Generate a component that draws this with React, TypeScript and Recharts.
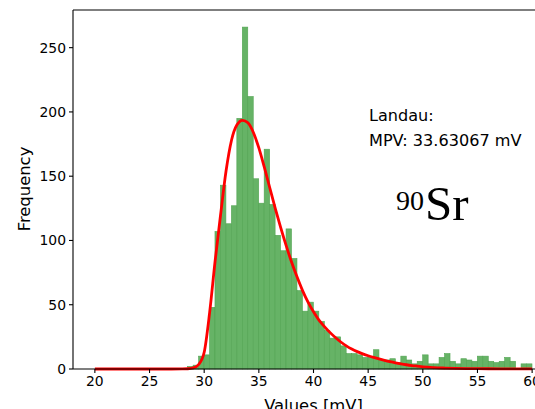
import { Bar, ComposedChart, Line, ReferenceLine, XAxis, YAxis } from 'recharts'

// histogram: 80 bins of 0.5 mV from 20 to 60
const binStart = 20
const binWidth = 0.5
const counts = [
  0, 0, 0, 0, 0, 0, 0, 0, 0, 0, 0, 0, 0, 0, 0, 0, 0,
  2, 3, 10, 11, 48, 107, 143, 113, 127, 195, 266, 212, 148, 129, 171, 128, 104,
  92, 109, 86, 61, 45, 52, 45, 37, 30, 24, 25, 18, 12, 12, 11, 9, 9, 15, 7, 7,
  8, 5, 10, 7, 4, 6, 11, 4, 4, 9, 12, 6, 4, 8, 7, 6, 10, 10, 6, 5, 6, 9, 6, 0,
  4, 4,
]

// Landau fit
const fitX = [
  20, 22, 24, 26, 27, 28, 28.5, 29, 29.5, 30, 30.5, 31, 31.5, 32, 32.5, 33,
  33.5, 34, 34.5, 35, 35.5, 36, 36.5, 37, 37.5, 38, 38.5, 39, 39.5, 40, 40.5,
  41, 41.5, 42, 42.5, 43, 43.5, 44, 44.5, 45, 45.5, 46, 46.5, 47, 47.5, 48,
  48.5, 49, 49.5, 50, 51, 52, 53, 54, 55, 56, 57, 58, 59, 60,
]
const fitY = [
  0, 0, 0, 0, 0, 0.05, 0.2, 0.8, 3.5, 13, 44, 84, 120, 154, 178, 190, 193.5,
  191.5, 184, 172, 157, 141, 125, 110, 96, 83, 71.5, 61, 52, 44.5, 38, 33,
  28.5, 24.5, 21, 18, 15.5, 13.5, 11.8, 10.3, 9, 7.8, 6.7, 5.7, 4.8, 4, 3.3,
  2.7, 2.2, 1.7, 1.1, 0.75, 0.5, 0.35, 0.25, 0.18, 0.12, 0.08, 0.05, 0.03,
]

const xTicks = [20, 25, 30, 35, 40, 45, 50, 55, 60]
const yTicks = [0, 50, 100, 150, 200, 250]
const xDomain = [18, 62]
const yMax = 279.3

const mpvText = 'MPV: 33.63067 mV'

type Row = { x: number; count?: number | null; fit?: number }

const rows: Row[] = [
  ...counts.map((c, i) => ({
    x: binStart + binWidth / 2 + i * binWidth,
    count: c === 0 ? null : c,
  })),
  ...fitX.map((x, i) => ({ x, fit: fitY[i] })),
].sort((a, b) => a.x - b.x)

const W = 556
const H = 409
const margin = { top: 10, right: 2, left: 0, bottom: 0 }
const yAxisWidth = 73
const plotW = W - margin.left - margin.right - yAxisWidth
// width of one bin in pixels, from the x scale
const barPx = (plotW / (xDomain[1] - xDomain[0])) * binWidth

const font = 'DejaVu Sans, sans-serif'
const tickStyle = { fill: '#000', fontSize: 13.9, fontFamily: font }

// recharts squeezes bars on a number axis, so widen each to a full bin
function HistBar(props: any) {
  const { x, y, width, height } = props
  if (!height || height <= 0) return null
  const cx = x + width / 2
  return (
    <rect
      x={cx - barPx / 2}
      y={y}
      width={barPx}
      height={height}
      fill="#66b366"
      stroke="#52a452"
      strokeWidth={0.6}
    />
  )
}

export default function App() {
  return (
    <div
      style={{
        position: 'absolute',
        left: 0,
        top: 0,
        width: 535,
        height: 409,
        overflow: 'hidden',
        background: '#fff',
      }}
    >
      <ComposedChart width={W} height={H} data={rows} margin={margin}>
        <XAxis
          dataKey="x"
          type="number"
          domain={xDomain}
          ticks={xTicks}
          allowDecimals={false}
          height={40}
          tick={tickStyle}
          tickSize={4}
          tickMargin={3}
          axisLine={{ stroke: '#000', strokeWidth: 1.1 }}
          tickLine={{ stroke: '#000', strokeWidth: 1.1 }}
          label={{
            value: 'Values [mV]',
            position: 'insideBottom',
            offset: -2,
            style: { fill: '#000', fontSize: 16.4, fontFamily: font },
          }}
        />
        <YAxis
          type="number"
          domain={[0, yMax]}
          ticks={yTicks}
          width={yAxisWidth}
          tick={tickStyle}
          tickSize={4}
          tickMargin={3}
          axisLine={{ stroke: '#000', strokeWidth: 1.1 }}
          tickLine={{ stroke: '#000', strokeWidth: 1.1 }}
        />
        <ReferenceLine y={yMax} stroke="#000" strokeWidth={1.1} />
        <ReferenceLine x={xDomain[1]} stroke="#000" strokeWidth={1.1} />
        <Bar
          dataKey="count"
          barSize={barPx}
          fill="#66b366"
          shape={HistBar}
          isAnimationActive={false}
        />
        <Line
          dataKey="fit"
          type="monotone"
          stroke="#ff0000"
          strokeWidth={2.8}
          dot={false}
          connectNulls
          isAnimationActive={false}
        />
      </ComposedChart>
      <svg
        width={535}
        height={409}
        style={{ position: 'absolute', left: 0, top: 0, pointerEvents: 'none' }}
      >
        <text
          transform="translate(30,189) rotate(-90)"
          textAnchor="middle"
          fontFamily={font}
          fontSize={16.4}
          fill="#000"
        >
          Frequency
        </text>
        <text x={369} y={121} fontFamily={font} fontSize={16.1} fill="#000">
          Landau:
        </text>
        <text x={369} y={146} fontFamily={font} fontSize={16.1} fill="#000">
          {mpvText}
        </text>
        <text x={396} y={210} fontFamily="Liberation Serif, serif" fontSize={28} fill="#000">
          90
        </text>
        <text x={425} y={220} fontFamily="Liberation Serif, serif" fontSize={49} fill="#000">
          Sr
        </text>
      </svg>
    </div>
  )
}
